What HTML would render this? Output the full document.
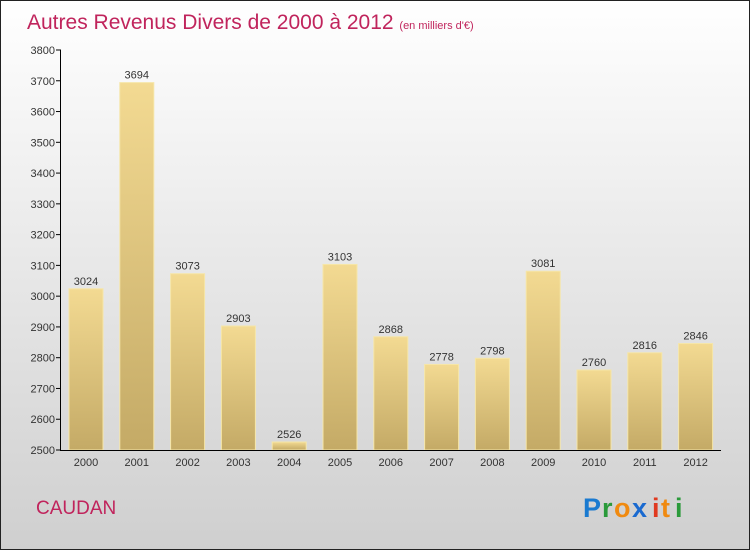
<!DOCTYPE html>
<html><head><meta charset="utf-8"><style>
body{margin:0;width:750px;height:550px;overflow:hidden;font-family:"Liberation Sans",sans-serif}
</style></head><body>
<svg width="750" height="550" xmlns="http://www.w3.org/2000/svg">
<defs>
<linearGradient id="bg" x1="0" y1="0" x2="0" y2="1"><stop offset="0" stop-color="#ffffff"/><stop offset="1" stop-color="#cfcfcf"/></linearGradient>
<linearGradient id="bar" x1="0" y1="0" x2="0" y2="1"><stop offset="0" stop-color="#f3da92"/><stop offset="1" stop-color="#c4aa66"/></linearGradient>
</defs>
<rect x="0.5" y="0.5" width="749" height="549" fill="url(#bg)" stroke="#222"/>
<text x="27" y="29" font-size="21" fill="#c0245c">Autres Revenus Divers de 2000 à 2012 <tspan font-size="11">(en milliers d'€)</tspan></text>
<g id="plot"></g>
<text x="36" y="514" font-size="19" fill="#c0245c">CAUDAN</text>
<g font-size="27" font-weight="bold">
<text x="583" y="517" fill="#1a7ad0">P</text><text x="602" y="517" fill="#2a9a3a">r</text><text x="614" y="517" fill="#f08a10">o</text><text x="632" y="517" fill="#1a6ad0">x</text><text x="652" y="517" fill="#e03a20">i</text><text x="661" y="517" fill="#f08a10">t</text><text x="675" y="517" fill="#2a9a3a">i</text>
</g>
</svg>
<script>
const categories=["2000","2001","2002","2003","2004","2005","2006","2007","2008","2009","2010","2011","2012"];
const values=[3024,3694,3073,2903,2526,3103,2868,2778,2798,3081,2760,2816,2846];
const yTicks=[2500,2600,2700,2800,2900,3000,3100,3200,3300,3400,3500,3600,3700,3800];
const NS="http://www.w3.org/2000/svg";
const g=document.getElementById('plot');
const y=v=>450-(v-2500)*400/1300;
const x=i=>69+i*50.8;
function mk(t,a){const e=document.createElementNS(NS,t);for(const k in a)e.setAttribute(k,a[k]);g.appendChild(e);return e;}
yTicks.forEach(v=>{
 const l=mk('line',{x1:56,x2:61,y1:y(v),y2:y(v),stroke:'#000'});
 
 
 const t=mk('text',{x:55,y:y(v)+4,'text-anchor':'end','font-size':11,fill:'#333'});t.textContent=v;
 
 
});
values.forEach((v,i)=>{
 const r=mk('rect',{x:x(i),y:y(v),width:34,height:450-y(v),fill:'url(#bar)',stroke:'#f6e6a8','stroke-width':1});
 
 
 const t=mk('text',{x:x(i)+17,y:y(v)-4,'text-anchor':'middle','font-size':11,fill:'#333'});t.textContent=v;
 
 
 const c=mk('text',{x:x(i)+17,y:466,'text-anchor':'middle','font-size':11,fill:'#333'});c.textContent=categories[i];
 
 
});
const ya=mk('line',{x1:60.5,x2:60.5,y1:50,y2:450,stroke:'#000'});


const xa=mk('line',{x1:60,x2:721,y1:450.5,y2:450.5,stroke:'#000'});


</script>
</body></html>
